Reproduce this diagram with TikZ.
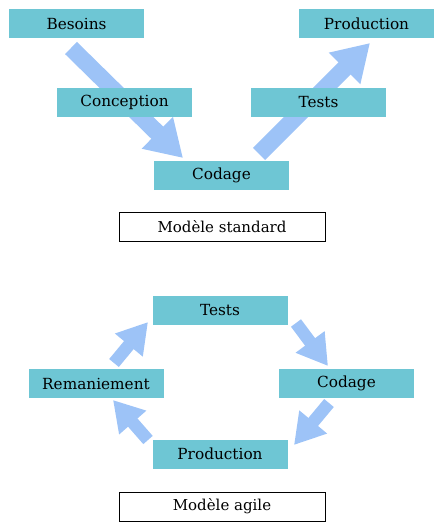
\documentclass[tikz,border=0pt]{standalone}
\usepackage{fontspec}
\setmainfont{DejaVu Serif}
\usetikzlibrary{arrows.meta}
\definecolor{boxfill}{HTML}{6EC6D4}
\definecolor{arrowfill}{HTML}{9DC3F7}
\pgfdeclarelayer{background}
\pgfsetlayers{background,main}
\tikzset{
  phase/.style={rectangle, fill=boxfill, minimum width=135pt, minimum height=29pt, inner sep=0pt,
    font=\fontsize{15.3}{18}\selectfont},
  caption/.style={rectangle, draw=black, line width=0.8pt, fill=white, minimum width=206pt, minimum height=29pt, inner sep=0pt,
    font=\fontsize{15}{18}\selectfont},
  bigarrow/.style={draw=arrowfill, line width=17pt, -{Triangle[width=42pt,length=36pt]}, fill=arrowfill},
  smallarrow/.style={draw=arrowfill, line width=12.5pt, -{Triangle[width=34pt,length=30pt]}, fill=arrowfill},
}
\begin{document}
\begin{tikzpicture}[x=1pt,y=-1pt]
\useasboundingbox (0,0) rectangle (443,532);
% standard model
\node[phase] (besoins) at (76.5,23.5) {Besoins};
\node[phase] (prod1) at (366.5,23.5) {Production};
\node[phase] (conception) at (124.5,102.5) {Conception};
\node[phase] (tests1) at (318.5,102.5) {Tests};
\node[phase] (codage1) at (221.5,175.5) {Codage};
\node[caption] (std) at (222,226.5) {Modèle standard};
\coordinate (a1s) at (71,48);
\coordinate (a1e) at (183,158);
\coordinate (a2s) at (259,154);
\coordinate (a2e) at (370,43);
% agile model
\node[phase] (tests2) at (220,310) {Tests};
\node[phase] (codage2) at (346.5,383.5) {Codage};
\node[phase] (prod2) at (220,454) {Production};
\node[phase] (reman) at (96,383.5) {Remaniement};
\node[caption] (agile) at (222,506.5) {Modèle agile};
\coordinate (b1s) at (114,363);
\coordinate (b1e) at (148,322);
\coordinate (b2s) at (296,323);
\coordinate (b2e) at (328,366);
\coordinate (b3s) at (329,403);
\coordinate (b3e) at (294,445);
\coordinate (b4s) at (148,440);
\coordinate (b4e) at (113,400);
\begin{pgfonlayer}{background}
\draw[bigarrow] (a1s) -- (a1e);
\draw[bigarrow] (a2s) -- (a2e);
\draw[smallarrow] (b1s) -- (b1e);
\draw[smallarrow] (b2s) -- (b2e);
\draw[smallarrow] (b3s) -- (b3e);
\draw[smallarrow] (b4s) -- (b4e);
\end{pgfonlayer}
\end{tikzpicture}
\end{document}
